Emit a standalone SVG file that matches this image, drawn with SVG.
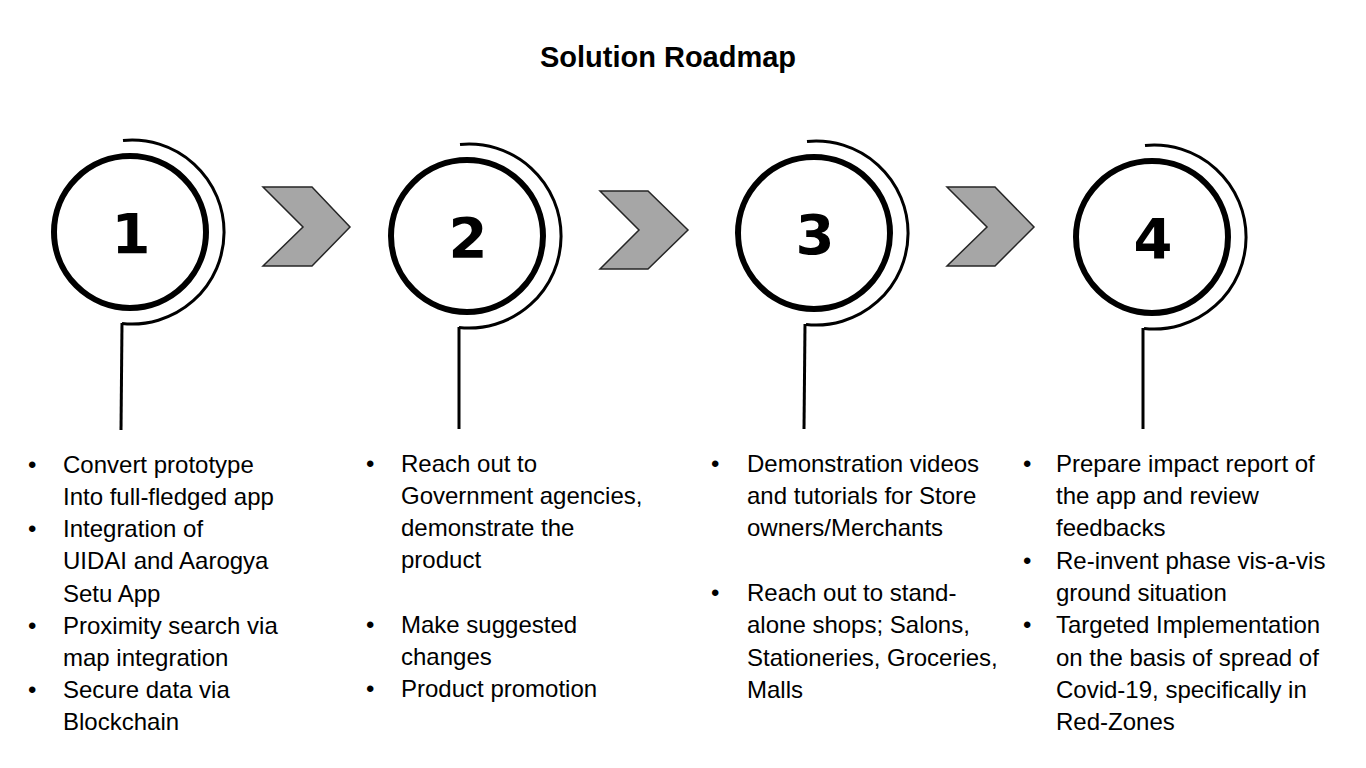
<svg xmlns="http://www.w3.org/2000/svg" width="1366" height="768" viewBox="0 0 1366 768">
<style>
.ring{fill:#fff;stroke:#000;stroke-width:6}
.arc{fill:none;stroke:#000;stroke-width:3}
.stem{fill:none;stroke:#000;stroke-width:3}
.chev{fill:#a6a6a6;stroke:#262626;stroke-width:1.5;stroke-linejoin:miter}
.num{font-family:"DejaVu Sans",sans-serif;font-weight:bold;font-size:56px;text-anchor:middle;fill:#000}
.title{font-family:"Liberation Sans",Arial,sans-serif;font-weight:bold;font-size:29px;text-anchor:middle;fill:#000}
.body{font-family:"Liberation Sans",Arial,sans-serif;font-size:24px;fill:#000}
</style>
<rect width="1366" height="768" fill="#fff"/>
<text class="title" x="668" y="67">Solution Roadmap</text>

<g id="connectors">
<polygon class="chev" points="263,187 312,187 350,227 312,266 263,266 303,227"/>
<polygon class="chev" points="600,191 648,191 688,230 648,269 600,269 639,230"/>
<polygon class="chev" points="947,187 995,187 1034,227 995,266 947,266 987,227"/>
<line class="stem" x1="122" y1="323" x2="121" y2="430"/>
<line class="stem" x1="459" y1="327" x2="459" y2="429"/>
<line class="stem" x1="805" y1="324" x2="804" y2="429"/>
<line class="stem" x1="1143" y1="328" x2="1143" y2="429"/>
</g>

<g id="node1">
<circle class="ring" cx="130" cy="232" r="76"/>
<path class="arc" d="M123,140.5 A92,92 0 1 1 122,323.5"/>
<text class="num" x="131" y="253">1</text>
<g class="body">
<text x="28" y="473">•</text><text x="63" y="473">Convert prototype</text>
<text x="63" y="505">Into full-fledged app</text>
<text x="28" y="537">•</text><text x="63" y="537">Integration of</text>
<text x="63" y="569">UIDAI and Aarogya</text>
<text x="63" y="602">Setu App</text>
<text x="28" y="634">•</text><text x="63" y="634">Proximity search via</text>
<text x="63" y="666">map integration</text>
<text x="28" y="698">•</text><text x="63" y="698">Secure data via</text>
<text x="63" y="730">Blockchain</text>
</g>
</g>

<g id="node2">
<circle class="ring" cx="467" cy="236" r="76"/>
<path class="arc" d="M460,144.5 A92,92 0 1 1 459,327.5"/>
<text class="num" x="468" y="257">2</text>
<g class="body">
<text x="366" y="472">•</text><text x="401" y="472">Reach out to</text>
<text x="401" y="504">Government agencies,</text>
<text x="401" y="536">demonstrate the</text>
<text x="401" y="568">product</text>
<text x="366" y="633">•</text><text x="401" y="633">Make suggested</text>
<text x="401" y="665">changes</text>
<text x="366" y="697">•</text><text x="401" y="697">Product promotion</text>
</g>
</g>

<g id="node3">
<circle class="ring" cx="814" cy="233" r="76"/>
<path class="arc" d="M807,141.5 A92,92 0 1 1 806,324.5"/>
<text class="num" x="815" y="254">3</text>
<g class="body">
<text x="711" y="472">•</text><text x="747" y="472">Demonstration videos</text>
<text x="747" y="504">and tutorials for Store</text>
<text x="747" y="536">owners/Merchants</text>
<text x="711" y="601">•</text><text x="747" y="601">Reach out to stand-</text>
<text x="747" y="633">alone shops; Salons,</text>
<text x="747" y="666">Stationeries, Groceries,</text>
<text x="747" y="698">Malls</text>
</g>
</g>

<g id="node4">
<circle class="ring" cx="1152" cy="237" r="76"/>
<path class="arc" d="M1145,145.5 A92,92 0 1 1 1144,328.5"/>
<text class="num" x="1153" y="258">4</text>
<g class="body">
<text x="1023" y="472">•</text><text x="1056" y="472">Prepare impact report of</text>
<text x="1056" y="504">the app and review</text>
<text x="1056" y="536">feedbacks</text>
<text x="1023" y="569">•</text><text x="1056" y="569">Re-invent phase vis-a-vis</text>
<text x="1056" y="601">ground situation</text>
<text x="1023" y="633">•</text><text x="1056" y="633">Targeted Implementation</text>
<text x="1056" y="666">on the basis of spread of</text>
<text x="1056" y="698">Covid-19, specifically in</text>
<text x="1056" y="730">Red-Zones</text>
</g>
</g>
</svg>
